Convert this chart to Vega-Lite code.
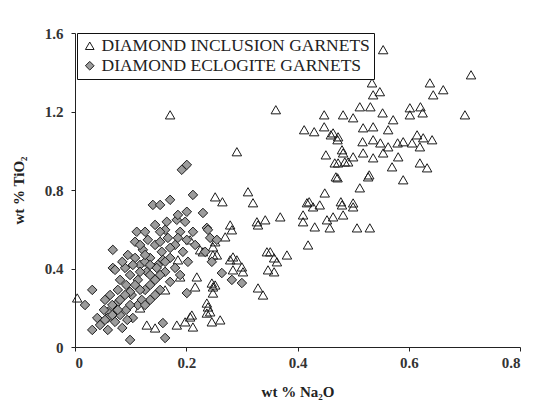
{
  "$schema": "https://vega.github.io/schema/vega-lite/v6.json",
  "width": 445,
  "height": 314,
  "autosize": "none",
  "padding": {"left": 75, "top": 33, "right": 22, "bottom": 73},
  "background": "white",
  "config": {
    "view": {"stroke": null},
    "font": "Liberation Serif"
  },
  "data": {
    "values": [
      {"type": "DIAMOND INCLUSION GARNETS", "na2o": 0.554, "tio2": 1.515},
      {"type": "DIAMOND INCLUSION GARNETS", "na2o": 0.712, "tio2": 1.387},
      {"type": "DIAMOND INCLUSION GARNETS", "na2o": 0.171, "tio2": 1.183},
      {"type": "DIAMOND INCLUSION GARNETS", "na2o": 0.291, "tio2": 0.995},
      {"type": "DIAMOND INCLUSION GARNETS", "na2o": 0.701, "tio2": 1.183},
      {"type": "DIAMOND INCLUSION GARNETS", "na2o": 0.638, "tio2": 1.346},
      {"type": "DIAMOND INCLUSION GARNETS", "na2o": 0.662, "tio2": 1.311},
      {"type": "DIAMOND INCLUSION GARNETS", "na2o": 0.644, "tio2": 1.285},
      {"type": "DIAMOND INCLUSION GARNETS", "na2o": 0.534, "tio2": 1.346},
      {"type": "DIAMOND INCLUSION GARNETS", "na2o": 0.548, "tio2": 1.301},
      {"type": "DIAMOND INCLUSION GARNETS", "na2o": 0.536, "tio2": 1.285},
      {"type": "DIAMOND INCLUSION GARNETS", "na2o": 0.602, "tio2": 1.219},
      {"type": "DIAMOND INCLUSION GARNETS", "na2o": 0.621, "tio2": 1.224},
      {"type": "DIAMOND INCLUSION GARNETS", "na2o": 0.602, "tio2": 1.183},
      {"type": "DIAMOND INCLUSION GARNETS", "na2o": 0.625, "tio2": 1.193},
      {"type": "DIAMOND INCLUSION GARNETS", "na2o": 0.512, "tio2": 1.224},
      {"type": "DIAMOND INCLUSION GARNETS", "na2o": 0.531, "tio2": 1.224},
      {"type": "DIAMOND INCLUSION GARNETS", "na2o": 0.482, "tio2": 1.183},
      {"type": "DIAMOND INCLUSION GARNETS", "na2o": 0.500, "tio2": 1.168},
      {"type": "DIAMOND INCLUSION GARNETS", "na2o": 0.553, "tio2": 1.193},
      {"type": "DIAMOND INCLUSION GARNETS", "na2o": 0.572, "tio2": 1.158},
      {"type": "DIAMOND INCLUSION GARNETS", "na2o": 0.563, "tio2": 1.107},
      {"type": "DIAMOND INCLUSION GARNETS", "na2o": 0.518, "tio2": 1.117},
      {"type": "DIAMOND INCLUSION GARNETS", "na2o": 0.536, "tio2": 1.122},
      {"type": "DIAMOND INCLUSION GARNETS", "na2o": 0.464, "tio2": 1.091},
      {"type": "DIAMOND INCLUSION GARNETS", "na2o": 0.472, "tio2": 1.056},
      {"type": "DIAMOND INCLUSION GARNETS", "na2o": 0.517, "tio2": 1.046},
      {"type": "DIAMOND INCLUSION GARNETS", "na2o": 0.536, "tio2": 1.056},
      {"type": "DIAMOND INCLUSION GARNETS", "na2o": 0.549, "tio2": 1.040},
      {"type": "DIAMOND INCLUSION GARNETS", "na2o": 0.563, "tio2": 1.020},
      {"type": "DIAMOND INCLUSION GARNETS", "na2o": 0.580, "tio2": 1.040},
      {"type": "DIAMOND INCLUSION GARNETS", "na2o": 0.590, "tio2": 1.046},
      {"type": "DIAMOND INCLUSION GARNETS", "na2o": 0.606, "tio2": 1.040},
      {"type": "DIAMOND INCLUSION GARNETS", "na2o": 0.615, "tio2": 1.081},
      {"type": "DIAMOND INCLUSION GARNETS", "na2o": 0.626, "tio2": 1.066},
      {"type": "DIAMOND INCLUSION GARNETS", "na2o": 0.642, "tio2": 1.056},
      {"type": "DIAMOND INCLUSION GARNETS", "na2o": 0.620, "tio2": 1.020},
      {"type": "DIAMOND INCLUSION GARNETS", "na2o": 0.480, "tio2": 1.005},
      {"type": "DIAMOND INCLUSION GARNETS", "na2o": 0.500, "tio2": 0.969},
      {"type": "DIAMOND INCLUSION GARNETS", "na2o": 0.518, "tio2": 0.989},
      {"type": "DIAMOND INCLUSION GARNETS", "na2o": 0.536, "tio2": 0.964},
      {"type": "DIAMOND INCLUSION GARNETS", "na2o": 0.554, "tio2": 0.989},
      {"type": "DIAMOND INCLUSION GARNETS", "na2o": 0.581, "tio2": 0.969},
      {"type": "DIAMOND INCLUSION GARNETS", "na2o": 0.467, "tio2": 0.938},
      {"type": "DIAMOND INCLUSION GARNETS", "na2o": 0.485, "tio2": 0.943},
      {"type": "DIAMOND INCLUSION GARNETS", "na2o": 0.570, "tio2": 0.918},
      {"type": "DIAMOND INCLUSION GARNETS", "na2o": 0.620, "tio2": 0.938},
      {"type": "DIAMOND INCLUSION GARNETS", "na2o": 0.633, "tio2": 0.913},
      {"type": "DIAMOND INCLUSION GARNETS", "na2o": 0.472, "tio2": 0.862},
      {"type": "DIAMOND INCLUSION GARNETS", "na2o": 0.527, "tio2": 0.867},
      {"type": "DIAMOND INCLUSION GARNETS", "na2o": 0.590, "tio2": 0.852},
      {"type": "DIAMOND INCLUSION GARNETS", "na2o": 0.512, "tio2": 0.811},
      {"type": "DIAMOND INCLUSION GARNETS", "na2o": 0.252, "tio2": 0.765},
      {"type": "DIAMOND INCLUSION GARNETS", "na2o": 0.265, "tio2": 0.740},
      {"type": "DIAMOND INCLUSION GARNETS", "na2o": 0.311, "tio2": 0.791},
      {"type": "DIAMOND INCLUSION GARNETS", "na2o": 0.320, "tio2": 0.735},
      {"type": "DIAMOND INCLUSION GARNETS", "na2o": 0.369, "tio2": 0.663},
      {"type": "DIAMOND INCLUSION GARNETS", "na2o": 0.329, "tio2": 0.622},
      {"type": "DIAMOND INCLUSION GARNETS", "na2o": 0.342, "tio2": 0.648},
      {"type": "DIAMOND INCLUSION GARNETS", "na2o": 0.417, "tio2": 0.735},
      {"type": "DIAMOND INCLUSION GARNETS", "na2o": 0.449, "tio2": 0.785},
      {"type": "DIAMOND INCLUSION GARNETS", "na2o": 0.428, "tio2": 0.714},
      {"type": "DIAMOND INCLUSION GARNETS", "na2o": 0.440, "tio2": 0.724},
      {"type": "DIAMOND INCLUSION GARNETS", "na2o": 0.410, "tio2": 0.673},
      {"type": "DIAMOND INCLUSION GARNETS", "na2o": 0.410, "tio2": 0.638},
      {"type": "DIAMOND INCLUSION GARNETS", "na2o": 0.431, "tio2": 0.612},
      {"type": "DIAMOND INCLUSION GARNETS", "na2o": 0.458, "tio2": 0.607},
      {"type": "DIAMOND INCLUSION GARNETS", "na2o": 0.453, "tio2": 0.648},
      {"type": "DIAMOND INCLUSION GARNETS", "na2o": 0.464, "tio2": 0.663},
      {"type": "DIAMOND INCLUSION GARNETS", "na2o": 0.480, "tio2": 0.724},
      {"type": "DIAMOND INCLUSION GARNETS", "na2o": 0.482, "tio2": 0.673},
      {"type": "DIAMOND INCLUSION GARNETS", "na2o": 0.500, "tio2": 0.714},
      {"type": "DIAMOND INCLUSION GARNETS", "na2o": 0.507, "tio2": 0.607},
      {"type": "DIAMOND INCLUSION GARNETS", "na2o": 0.530, "tio2": 0.607},
      {"type": "DIAMOND INCLUSION GARNETS", "na2o": 0.419, "tio2": 0.520},
      {"type": "DIAMOND INCLUSION GARNETS", "na2o": 0.351, "tio2": 0.485},
      {"type": "DIAMOND INCLUSION GARNETS", "na2o": 0.381, "tio2": 0.469},
      {"type": "DIAMOND INCLUSION GARNETS", "na2o": 0.363, "tio2": 0.434},
      {"type": "DIAMOND INCLUSION GARNETS", "na2o": 0.347, "tio2": 0.393},
      {"type": "DIAMOND INCLUSION GARNETS", "na2o": 0.329, "tio2": 0.301},
      {"type": "DIAMOND INCLUSION GARNETS", "na2o": 0.338, "tio2": 0.265},
      {"type": "DIAMOND INCLUSION GARNETS", "na2o": 0.282, "tio2": 0.597},
      {"type": "DIAMOND INCLUSION GARNETS", "na2o": 0.270, "tio2": 0.561},
      {"type": "DIAMOND INCLUSION GARNETS", "na2o": 0.252, "tio2": 0.536},
      {"type": "DIAMOND INCLUSION GARNETS", "na2o": 0.248, "tio2": 0.469},
      {"type": "DIAMOND INCLUSION GARNETS", "na2o": 0.279, "tio2": 0.444},
      {"type": "DIAMOND INCLUSION GARNETS", "na2o": 0.291, "tio2": 0.444},
      {"type": "DIAMOND INCLUSION GARNETS", "na2o": 0.300, "tio2": 0.408},
      {"type": "DIAMOND INCLUSION GARNETS", "na2o": 0.284, "tio2": 0.393},
      {"type": "DIAMOND INCLUSION GARNETS", "na2o": 0.302, "tio2": 0.383},
      {"type": "DIAMOND INCLUSION GARNETS", "na2o": 0.248, "tio2": 0.306},
      {"type": "DIAMOND INCLUSION GARNETS", "na2o": 0.237, "tio2": 0.224},
      {"type": "DIAMOND INCLUSION GARNETS", "na2o": 0.237, "tio2": 0.173},
      {"type": "DIAMOND INCLUSION GARNETS", "na2o": 0.261, "tio2": 0.138},
      {"type": "DIAMOND INCLUSION GARNETS", "na2o": 0.246, "tio2": 0.128},
      {"type": "DIAMOND INCLUSION GARNETS", "na2o": 0.004, "tio2": 0.250},
      {"type": "DIAMOND INCLUSION GARNETS", "na2o": 0.129, "tio2": 0.112},
      {"type": "DIAMOND INCLUSION GARNETS", "na2o": 0.144, "tio2": 0.097},
      {"type": "DIAMOND INCLUSION GARNETS", "na2o": 0.183, "tio2": 0.112},
      {"type": "DIAMOND INCLUSION GARNETS", "na2o": 0.198, "tio2": 0.128},
      {"type": "DIAMOND INCLUSION GARNETS", "na2o": 0.212, "tio2": 0.102},
      {"type": "DIAMOND INCLUSION GARNETS", "na2o": 0.210, "tio2": 0.163},
      {"type": "DIAMOND INCLUSION GARNETS", "na2o": 0.243, "tio2": 0.179},
      {"type": "DIAMOND INCLUSION GARNETS", "na2o": 0.252, "tio2": 0.316},
      {"type": "DIAMOND INCLUSION GARNETS", "na2o": 0.216, "tio2": 0.306},
      {"type": "DIAMOND INCLUSION GARNETS", "na2o": 0.230, "tio2": 0.485},
      {"type": "DIAMOND INCLUSION GARNETS", "na2o": 0.255, "tio2": 0.469},
      {"type": "DIAMOND INCLUSION GARNETS", "na2o": 0.219, "tio2": 0.357},
      {"type": "DIAMOND INCLUSION GARNETS", "na2o": 0.284, "tio2": 0.459},
      {"type": "DIAMOND INCLUSION GARNETS", "na2o": 0.225, "tio2": 0.495},
      {"type": "DIAMOND INCLUSION GARNETS", "na2o": 0.189, "tio2": 0.357},
      {"type": "DIAMOND INCLUSION GARNETS", "na2o": 0.162, "tio2": 0.291},
      {"type": "DIAMOND INCLUSION GARNETS", "na2o": 0.117, "tio2": 0.199},
      {"type": "DIAMOND INCLUSION GARNETS", "na2o": 0.239, "tio2": 0.204},
      {"type": "DIAMOND INCLUSION GARNETS", "na2o": 0.246, "tio2": 0.326},
      {"type": "DIAMOND INCLUSION GARNETS", "na2o": 0.327, "tio2": 0.638},
      {"type": "DIAMOND INCLUSION GARNETS", "na2o": 0.345, "tio2": 0.485},
      {"type": "DIAMOND INCLUSION GARNETS", "na2o": 0.358, "tio2": 0.454},
      {"type": "DIAMOND INCLUSION GARNETS", "na2o": 0.358, "tio2": 0.383},
      {"type": "DIAMOND INCLUSION GARNETS", "na2o": 0.361, "tio2": 1.209},
      {"type": "DIAMOND INCLUSION GARNETS", "na2o": 0.448, "tio2": 1.183},
      {"type": "DIAMOND INCLUSION GARNETS", "na2o": 0.412, "tio2": 1.107},
      {"type": "DIAMOND INCLUSION GARNETS", "na2o": 0.430, "tio2": 1.097},
      {"type": "DIAMOND INCLUSION GARNETS", "na2o": 0.448, "tio2": 1.122},
      {"type": "DIAMOND INCLUSION GARNETS", "na2o": 0.460, "tio2": 1.081},
      {"type": "DIAMOND INCLUSION GARNETS", "na2o": 0.473, "tio2": 1.071},
      {"type": "DIAMOND INCLUSION GARNETS", "na2o": 0.451, "tio2": 0.979},
      {"type": "DIAMOND INCLUSION GARNETS", "na2o": 0.482, "tio2": 0.989},
      {"type": "DIAMOND INCLUSION GARNETS", "na2o": 0.473, "tio2": 0.938},
      {"type": "DIAMOND INCLUSION GARNETS", "na2o": 0.491, "tio2": 0.943},
      {"type": "DIAMOND INCLUSION GARNETS", "na2o": 0.469, "tio2": 0.867},
      {"type": "DIAMOND INCLUSION GARNETS", "na2o": 0.529, "tio2": 0.877},
      {"type": "DIAMOND INCLUSION GARNETS", "na2o": 0.421, "tio2": 0.740},
      {"type": "DIAMOND INCLUSION GARNETS", "na2o": 0.478, "tio2": 0.740},
      {"type": "DIAMOND INCLUSION GARNETS", "na2o": 0.500, "tio2": 0.734},
      {"type": "DIAMOND INCLUSION GARNETS", "na2o": 0.248, "tio2": 0.510},
      {"type": "DIAMOND INCLUSION GARNETS", "na2o": 0.279, "tio2": 0.622},
      {"type": "DIAMOND INCLUSION GARNETS", "na2o": 0.207, "tio2": 0.153},
      {"type": "DIAMOND INCLUSION GARNETS", "na2o": 0.248, "tio2": 0.275},
      {"type": "DIAMOND INCLUSION GARNETS", "na2o": 0.185, "tio2": 0.444},
      {"type": "DIAMOND INCLUSION GARNETS", "na2o": 0.207, "tio2": 0.546},
      {"type": "DIAMOND ECLOGITE GARNETS", "na2o": 0.192, "tio2": 0.903},
      {"type": "DIAMOND ECLOGITE GARNETS", "na2o": 0.201, "tio2": 0.928},
      {"type": "DIAMOND ECLOGITE GARNETS", "na2o": 0.140, "tio2": 0.724},
      {"type": "DIAMOND ECLOGITE GARNETS", "na2o": 0.171, "tio2": 0.750},
      {"type": "DIAMOND ECLOGITE GARNETS", "na2o": 0.212, "tio2": 0.775},
      {"type": "DIAMOND ECLOGITE GARNETS", "na2o": 0.201, "tio2": 0.689},
      {"type": "DIAMOND ECLOGITE GARNETS", "na2o": 0.230, "tio2": 0.683},
      {"type": "DIAMOND ECLOGITE GARNETS", "na2o": 0.183, "tio2": 0.648},
      {"type": "DIAMOND ECLOGITE GARNETS", "na2o": 0.165, "tio2": 0.638},
      {"type": "DIAMOND ECLOGITE GARNETS", "na2o": 0.162, "tio2": 0.597},
      {"type": "DIAMOND ECLOGITE GARNETS", "na2o": 0.111, "tio2": 0.587},
      {"type": "DIAMOND ECLOGITE GARNETS", "na2o": 0.108, "tio2": 0.536},
      {"type": "DIAMOND ECLOGITE GARNETS", "na2o": 0.068, "tio2": 0.495},
      {"type": "DIAMOND ECLOGITE GARNETS", "na2o": 0.068, "tio2": 0.403},
      {"type": "DIAMOND ECLOGITE GARNETS", "na2o": 0.237, "tio2": 0.607},
      {"type": "DIAMOND ECLOGITE GARNETS", "na2o": 0.212, "tio2": 0.587},
      {"type": "DIAMOND ECLOGITE GARNETS", "na2o": 0.243, "tio2": 0.556},
      {"type": "DIAMOND ECLOGITE GARNETS", "na2o": 0.255, "tio2": 0.546},
      {"type": "DIAMOND ECLOGITE GARNETS", "na2o": 0.201, "tio2": 0.546},
      {"type": "DIAMOND ECLOGITE GARNETS", "na2o": 0.031, "tio2": 0.291},
      {"type": "DIAMOND ECLOGITE GARNETS", "na2o": 0.018, "tio2": 0.214},
      {"type": "DIAMOND ECLOGITE GARNETS", "na2o": 0.059, "tio2": 0.179},
      {"type": "DIAMOND ECLOGITE GARNETS", "na2o": 0.031, "tio2": 0.087},
      {"type": "DIAMOND ECLOGITE GARNETS", "na2o": 0.059, "tio2": 0.087},
      {"type": "DIAMOND ECLOGITE GARNETS", "na2o": 0.099, "tio2": 0.036},
      {"type": "DIAMOND ECLOGITE GARNETS", "na2o": 0.162, "tio2": 0.046},
      {"type": "DIAMOND ECLOGITE GARNETS", "na2o": 0.158, "tio2": 0.122},
      {"type": "DIAMOND ECLOGITE GARNETS", "na2o": 0.201, "tio2": 0.275},
      {"type": "DIAMOND ECLOGITE GARNETS", "na2o": 0.264, "tio2": 0.377},
      {"type": "DIAMOND ECLOGITE GARNETS", "na2o": 0.282, "tio2": 0.342},
      {"type": "DIAMOND ECLOGITE GARNETS", "na2o": 0.300, "tio2": 0.326},
      {"type": "DIAMOND ECLOGITE GARNETS", "na2o": 0.239, "tio2": 0.597},
      {"type": "DIAMOND ECLOGITE GARNETS", "na2o": 0.234, "tio2": 0.485},
      {"type": "DIAMOND ECLOGITE GARNETS", "na2o": 0.246, "tio2": 0.434},
      {"type": "DIAMOND ECLOGITE GARNETS", "na2o": 0.081, "tio2": 0.163},
      {"type": "DIAMOND ECLOGITE GARNETS", "na2o": 0.076, "tio2": 0.224},
      {"type": "DIAMOND ECLOGITE GARNETS", "na2o": 0.045, "tio2": 0.112},
      {"type": "DIAMOND ECLOGITE GARNETS", "na2o": 0.059, "tio2": 0.148},
      {"type": "DIAMOND ECLOGITE GARNETS", "na2o": 0.072, "tio2": 0.128},
      {"type": "DIAMOND ECLOGITE GARNETS", "na2o": 0.052, "tio2": 0.189},
      {"type": "DIAMOND ECLOGITE GARNETS", "na2o": 0.067, "tio2": 0.214},
      {"type": "DIAMOND ECLOGITE GARNETS", "na2o": 0.081, "tio2": 0.240},
      {"type": "DIAMOND ECLOGITE GARNETS", "na2o": 0.092, "tio2": 0.189},
      {"type": "DIAMOND ECLOGITE GARNETS", "na2o": 0.077, "tio2": 0.291},
      {"type": "DIAMOND ECLOGITE GARNETS", "na2o": 0.092, "tio2": 0.316},
      {"type": "DIAMOND ECLOGITE GARNETS", "na2o": 0.102, "tio2": 0.265},
      {"type": "DIAMOND ECLOGITE GARNETS", "na2o": 0.113, "tio2": 0.214},
      {"type": "DIAMOND ECLOGITE GARNETS", "na2o": 0.099, "tio2": 0.367},
      {"type": "DIAMOND ECLOGITE GARNETS", "na2o": 0.113, "tio2": 0.342},
      {"type": "DIAMOND ECLOGITE GARNETS", "na2o": 0.126, "tio2": 0.291},
      {"type": "DIAMOND ECLOGITE GARNETS", "na2o": 0.135, "tio2": 0.240},
      {"type": "DIAMOND ECLOGITE GARNETS", "na2o": 0.117, "tio2": 0.418},
      {"type": "DIAMOND ECLOGITE GARNETS", "na2o": 0.129, "tio2": 0.383},
      {"type": "DIAMOND ECLOGITE GARNETS", "na2o": 0.144, "tio2": 0.342},
      {"type": "DIAMOND ECLOGITE GARNETS", "na2o": 0.153, "tio2": 0.291},
      {"type": "DIAMOND ECLOGITE GARNETS", "na2o": 0.108, "tio2": 0.454},
      {"type": "DIAMOND ECLOGITE GARNETS", "na2o": 0.122, "tio2": 0.495},
      {"type": "DIAMOND ECLOGITE GARNETS", "na2o": 0.135, "tio2": 0.454},
      {"type": "DIAMOND ECLOGITE GARNETS", "na2o": 0.149, "tio2": 0.418},
      {"type": "DIAMOND ECLOGITE GARNETS", "na2o": 0.162, "tio2": 0.383},
      {"type": "DIAMOND ECLOGITE GARNETS", "na2o": 0.171, "tio2": 0.332},
      {"type": "DIAMOND ECLOGITE GARNETS", "na2o": 0.131, "tio2": 0.546},
      {"type": "DIAMOND ECLOGITE GARNETS", "na2o": 0.144, "tio2": 0.520},
      {"type": "DIAMOND ECLOGITE GARNETS", "na2o": 0.156, "tio2": 0.485},
      {"type": "DIAMOND ECLOGITE GARNETS", "na2o": 0.171, "tio2": 0.454},
      {"type": "DIAMOND ECLOGITE GARNETS", "na2o": 0.180, "tio2": 0.403},
      {"type": "DIAMOND ECLOGITE GARNETS", "na2o": 0.189, "tio2": 0.367},
      {"type": "DIAMOND ECLOGITE GARNETS", "na2o": 0.153, "tio2": 0.587},
      {"type": "DIAMOND ECLOGITE GARNETS", "na2o": 0.167, "tio2": 0.556},
      {"type": "DIAMOND ECLOGITE GARNETS", "na2o": 0.180, "tio2": 0.520},
      {"type": "DIAMOND ECLOGITE GARNETS", "na2o": 0.194, "tio2": 0.485},
      {"type": "DIAMOND ECLOGITE GARNETS", "na2o": 0.203, "tio2": 0.434},
      {"type": "DIAMOND ECLOGITE GARNETS", "na2o": 0.189, "tio2": 0.587},
      {"type": "DIAMOND ECLOGITE GARNETS", "na2o": 0.216, "tio2": 0.520},
      {"type": "DIAMOND ECLOGITE GARNETS", "na2o": 0.185, "tio2": 0.673},
      {"type": "DIAMOND ECLOGITE GARNETS", "na2o": 0.198, "tio2": 0.638},
      {"type": "DIAMOND ECLOGITE GARNETS", "na2o": 0.144, "tio2": 0.622},
      {"type": "DIAMOND ECLOGITE GARNETS", "na2o": 0.126, "tio2": 0.587},
      {"type": "DIAMOND ECLOGITE GARNETS", "na2o": 0.090, "tio2": 0.403},
      {"type": "DIAMOND ECLOGITE GARNETS", "na2o": 0.081, "tio2": 0.342},
      {"type": "DIAMOND ECLOGITE GARNETS", "na2o": 0.063, "tio2": 0.265},
      {"type": "DIAMOND ECLOGITE GARNETS", "na2o": 0.095, "tio2": 0.469},
      {"type": "DIAMOND ECLOGITE GARNETS", "na2o": 0.153, "tio2": 0.724},
      {"type": "DIAMOND ECLOGITE GARNETS", "na2o": 0.147, "tio2": 0.403},
      {"type": "DIAMOND ECLOGITE GARNETS", "na2o": 0.158, "tio2": 0.444},
      {"type": "DIAMOND ECLOGITE GARNETS", "na2o": 0.135, "tio2": 0.316},
      {"type": "DIAMOND ECLOGITE GARNETS", "na2o": 0.120, "tio2": 0.240},
      {"type": "DIAMOND ECLOGITE GARNETS", "na2o": 0.104, "tio2": 0.148},
      {"type": "DIAMOND ECLOGITE GARNETS", "na2o": 0.085, "tio2": 0.097},
      {"type": "DIAMOND ECLOGITE GARNETS", "na2o": 0.040, "tio2": 0.148},
      {"type": "DIAMOND ECLOGITE GARNETS", "na2o": 0.054, "tio2": 0.240},
      {"type": "DIAMOND ECLOGITE GARNETS", "na2o": 0.072, "tio2": 0.393},
      {"type": "DIAMOND ECLOGITE GARNETS", "na2o": 0.085, "tio2": 0.434},
      {"type": "DIAMOND ECLOGITE GARNETS", "na2o": 0.117, "tio2": 0.520},
      {"type": "DIAMOND ECLOGITE GARNETS", "na2o": 0.099, "tio2": 0.281},
      {"type": "DIAMOND ECLOGITE GARNETS", "na2o": 0.126, "tio2": 0.434},
      {"type": "DIAMOND ECLOGITE GARNETS", "na2o": 0.117, "tio2": 0.291},
      {"type": "DIAMOND ECLOGITE GARNETS", "na2o": 0.126, "tio2": 0.214},
      {"type": "DIAMOND ECLOGITE GARNETS", "na2o": 0.135, "tio2": 0.367},
      {"type": "DIAMOND ECLOGITE GARNETS", "na2o": 0.144, "tio2": 0.265},
      {"type": "DIAMOND ECLOGITE GARNETS", "na2o": 0.099, "tio2": 0.214},
      {"type": "DIAMOND ECLOGITE GARNETS", "na2o": 0.090, "tio2": 0.265},
      {"type": "DIAMOND ECLOGITE GARNETS", "na2o": 0.153, "tio2": 0.367},
      {"type": "DIAMOND ECLOGITE GARNETS", "na2o": 0.162, "tio2": 0.434},
      {"type": "DIAMOND ECLOGITE GARNETS", "na2o": 0.108, "tio2": 0.316},
      {"type": "DIAMOND ECLOGITE GARNETS", "na2o": 0.117, "tio2": 0.383},
      {"type": "DIAMOND ECLOGITE GARNETS", "na2o": 0.135, "tio2": 0.418},
      {"type": "DIAMOND ECLOGITE GARNETS", "na2o": 0.126, "tio2": 0.469},
      {"type": "DIAMOND ECLOGITE GARNETS", "na2o": 0.171, "tio2": 0.505},
      {"type": "DIAMOND ECLOGITE GARNETS", "na2o": 0.153, "tio2": 0.536},
      {"type": "DIAMOND ECLOGITE GARNETS", "na2o": 0.185, "tio2": 0.556},
      {"type": "DIAMOND ECLOGITE GARNETS", "na2o": 0.104, "tio2": 0.418},
      {"type": "DIAMOND ECLOGITE GARNETS", "na2o": 0.077, "tio2": 0.189},
      {"type": "DIAMOND ECLOGITE GARNETS", "na2o": 0.094, "tio2": 0.138},
      {"type": "DIAMOND ECLOGITE GARNETS", "na2o": 0.067, "tio2": 0.163},
      {"type": "DIAMOND ECLOGITE GARNETS", "na2o": 0.054, "tio2": 0.138}
    ]
  },
  "mark": {
    "type": "point",
    "filled": true,
    "fillOpacity": 1,
    "opacity": 1,
    "stroke": "#1a1a1a",
    "strokeWidth": 1,
    "size": 90
  },
  "encoding": {
    "x": {
      "field": "na2o",
      "type": "quantitative",
      "title": "wt % Na₂O",
      "scale": {"domain": [0, 0.8], "nice": false, "zero": true},
      "axis": {
        "values": [0, 0.2, 0.4, 0.6, 0.8],
        "format": "~g",
        "grid": false,
        "domainColor": "#222",
        "tickColor": "#222",
        "tickSize": 4,
        "labelFont": "Liberation Serif",
        "labelFontSize": 15,
        "labelFontWeight": "bold",
        "labelColor": "#333",
        "labelPadding": 4,
        "titleFont": "Liberation Serif",
        "titleFontSize": 15,
        "titleFontWeight": "bold",
        "titleColor": "#222",
        "titlePadding": 14
      }
    },
    "y": {
      "field": "tio2",
      "type": "quantitative",
      "title": "wt % TiO₂",
      "scale": {"domain": [0, 1.6], "nice": false},
      "axis": {
        "values": [0, 0.4, 0.8, 1.2, 1.6],
        "format": "~g",
        "grid": false,
        "domainColor": "#222",
        "tickColor": "#222",
        "tickSize": 4,
        "labelFont": "Liberation Serif",
        "labelFontSize": 15,
        "labelFontWeight": "bold",
        "labelColor": "#333",
        "labelPadding": 8,
        "titleFont": "Liberation Serif",
        "titleFontSize": 15,
        "titleFontWeight": "bold",
        "titleColor": "#222",
        "titlePadding": 18
      }
    },
    "shape": {
      "field": "type",
      "type": "nominal",
      "scale": {
        "domain": ["DIAMOND INCLUSION GARNETS", "DIAMOND ECLOGITE GARNETS"],
        "range": ["triangle-up", "diamond"]
      },
      "legend": null
    },
    "color": {
      "field": "type",
      "type": "nominal",
      "scale": {
        "domain": ["DIAMOND INCLUSION GARNETS", "DIAMOND ECLOGITE GARNETS"],
        "range": ["transparent", "#9c9c9c"]
      },
      "legend": {
        "title": null,
        "orient": "none",
        "legendX": 2,
        "legendY": 0,
        "direction": "vertical",
        "strokeColor": "#111",
        "fillColor": "white",
        "padding": 4,
        "rowPadding": 1,
        "labelFont": "Liberation Serif",
        "labelFontSize": 17.5,
        "labelColor": "#222",
        "labelLimit": 400,
        "labelOffset": 3,
        "symbolSize": 75,
        "symbolStrokeColor": "#1a1a1a",
        "symbolStrokeWidth": 1,
        "symbolOffset": 0
      }
    },
    "order": {"field": "type", "sort": "descending"}
  }
}
